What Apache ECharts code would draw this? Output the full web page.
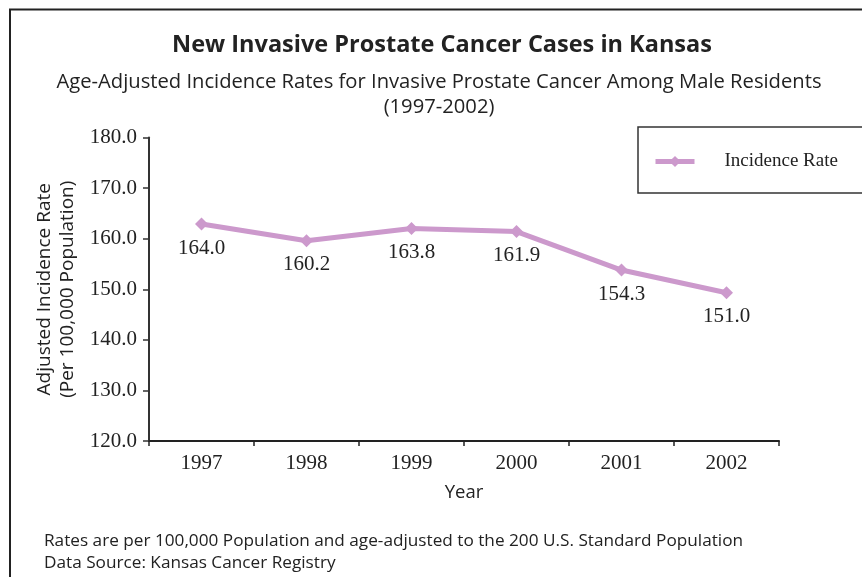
<!DOCTYPE html>
<html>
<head>
<meta charset="utf-8">
<script src="https://cdn.jsdelivr.net/npm/echarts@6/dist/echarts.min.js"></script>
<style>
html,body{margin:0;padding:0;background:#fff;}
#chart{width:862px;height:577px;}
</style>
</head>
<body>
<div id="chart"></div>
<script>
// Data
const years = ['1997', '1998', '1999', '2000', '2001', '2002'];
// plotted positions of the markers as drawn
const rates = [162.9, 159.6, 162.0, 161.4, 153.8, 149.3];
// value labels printed next to the markers
const rateLabels = ['164.0', '160.2', '163.8', '161.9', '154.3', '151.0'];
const yTicks = [120, 130, 140, 150, 160, 170, 180];

const serif = '"Liberation Serif", "Times New Roman", serif';
const sans = '"Open Sans", Lato, sans-serif';
const ink = '#222';
const lineColor = '#cc99cc';

const chart = echarts.init(document.getElementById('chart'), null, {renderer: 'canvas'});

const option = {
  animation: false,
  backgroundColor: '#fff',
  title: [
    {
      text: 'New Invasive Prostate Cancer Cases in Kansas',
      left: 442, top: 33, textAlign: 'center', padding: 0,
      textStyle: {fontFamily: sans, fontWeight: 'bold', fontSize: 23.5, color: ink}
    },
    {
      text: 'Age-Adjusted Incidence Rates for Invasive Prostate Cancer Among Male Residents\n(1997-2002)',
      left: 439, top: 70, textAlign: 'center', padding: 0,
      textStyle: {fontFamily: sans, fontWeight: 'normal', fontSize: 20.2, color: ink, lineHeight: 25, align: 'center'}
    },
    {
      text: 'Rates are per 100,000 Population and age-adjusted to the 200 U.S. Standard Population\nData Source: Kansas Cancer Registry',
      left: 44, top: 530, padding: 0,
      textStyle: {fontFamily: sans, fontWeight: 'normal', fontSize: 17.2, color: ink, lineHeight: 22}
    }
  ],
  graphic: [
    {type: 'rect', shape: {x: 10, y: 9.5, width: 900, height: 700},
     style: {fill: 'none', stroke: '#222', lineWidth: 2}, silent: true, z: 0},
    {type: 'rect', shape: {x: 638, y: 127, width: 300, height: 66},
     style: {fill: 'none', stroke: '#333', lineWidth: 1.5}, silent: true, z: 0}
  ],
  legend: {
    left: 648, top: 147,
    itemWidth: 39, itemHeight: 14,
    data: ['Incidence Rate'],
    lineStyle: {width: 5},
    textStyle: {fontFamily: serif, fontSize: 19, color: ink, padding: [0, 0, 0, 25]}
  },
  grid: {left: 149, right: 83, top: 137.5, bottom: 136, containLabel: false},
  xAxis: {
    type: 'category',
    data: years,
    boundaryGap: true,
    name: 'Year',
    nameLocation: 'middle',
    nameGap: 42,
    nameTextStyle: {fontFamily: sans, fontSize: 18.5, color: ink},
    axisLine: {lineStyle: {color: '#222', width: 2}},
    axisTick: {show: true, length: 5, alignWithLabel: false, lineStyle: {color: '#222', width: 1.5}},
    axisLabel: {fontFamily: serif, fontSize: 21, color: ink, margin: 12},
    splitLine: {show: false}
  },
  yAxis: {
    type: 'value',
    min: yTicks[0], max: yTicks[yTicks.length - 1], interval: 10,
    name: 'Adjusted Incidence Rate\n(Per 100,000 Population)',
    nameLocation: 'middle',
    nameRotate: 90,
    nameGap: 70,
    nameTextStyle: {fontFamily: sans, fontSize: 19, color: ink, lineHeight: 23, align: 'center'},
    axisLine: {show: true, lineStyle: {color: '#333', width: 2}},
    axisTick: {show: true, length: 6, lineStyle: {color: '#333', width: 1.5}},
    axisLabel: {fontFamily: serif, fontSize: 21, color: ink, margin: 12,
      formatter: v => v.toFixed(1)},
    splitLine: {show: false}
  },
  series: [{
    name: 'Incidence Rate',
    type: 'line',
    data: rates,
    symbol: 'diamond',
    symbolSize: 13,
    lineStyle: {color: lineColor, width: 5},
    itemStyle: {color: lineColor},
    label: {
      show: true,
      position: 'bottom',
      distance: 7,
      offset: [0, 0],
      fontFamily: serif, fontSize: 21, color: ink,
      formatter: p => rateLabels[p.dataIndex]
    }
  }]
};
chart.setOption(option);
</script>
</body>
</html>
